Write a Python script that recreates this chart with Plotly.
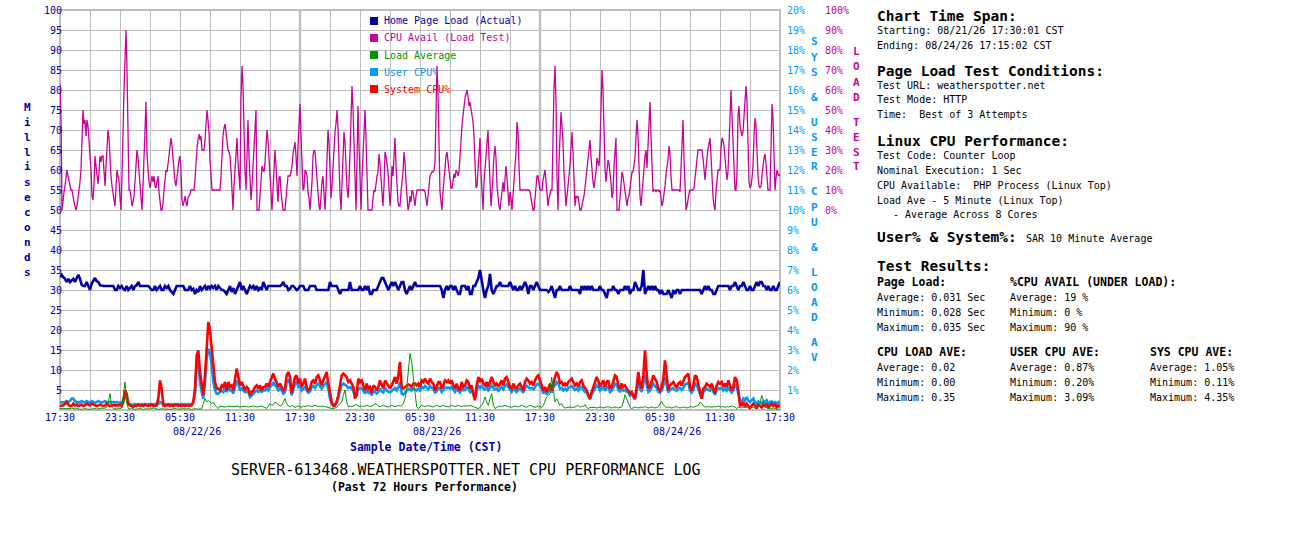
import plotly.graph_objects as go

# ---------------- data ----------------
# hours since 08/21/26 17:30 CST for the x axis ticks
TICK_HOURS = [0, 3, 6, 9, 12, 15, 18, 21, 24, 27, 30, 33, 36, 39, 42, 45, 48, 51, 54, 57, 60, 63, 66, 69, 72]
TICK_LABELS = ["17:30", "", "23:30", "", "05:30", "", "11:30", "", "17:30", "", "23:30", "", "05:30", "",
               "11:30", "", "17:30", "", "23:30", "", "05:30", "", "11:30", "", "17:30"]
DATE_LABELS = ["08/22/26", "08/23/26", "08/24/26"]
DATE_LABEL_HOURS = [13.7, 37.7, 61.7]

MS_TICKS = [5, 10, 15, 20, 25, 30, 35, 40, 45, 50, 55, 60, 65, 70, 75, 80, 85, 90, 95, 100]
SYS_TICKS = [1, 2, 3, 4, 5, 6, 7, 8, 9, 10, 11, 12, 13, 14, 15, 16, 17, 18, 19, 20]
LOAD_TICKS = [0, 10, 20, 30, 40, 50, 60, 70, 80, 90, 100]

CPU_STEP_H = 0.1        # CPU-avail samples (hours)
SAR_STEP_H = 1 / 6      # 10 minute samples (hours)

# CPU available under load test, %  (0-100, drawn on the LOAD TEST axis)
CPU_AVAIL_PCT = [
    63,47,0,6,9,12,17,20,17,14, 12,10,10,6,4,2,0,2,6,8, 14,20,40,50,43,45,37,45,42,36,
    30,20,7,5,13,27,22,18,13,19, 27,24,27,27,19,12,22,32,40,36, 22,17,12,7,5,2,10,20,17,15,
    6,0,17,45,60,75,90,70,30,10, 10,7,2,4,7,14,25,30,26,19, 12,6,0,12,26,45,54,28,19,14,
    11,14,17,14,17,12,11,14,17,9, 4,0,0,3,10,17,20,19,22,27, 32,36,32,24,19,14,12,17,21,25,
    27,20,5,2,4,7,4,2,6,7, 8,10,10,10,10,15,25,31,35,38, 35,37,30,30,30,35,44,50,45,39,
    25,15,10,10,10,10,10,10,10,10, 10,17,30,37,41,43,39,33,30,29, 27,20,7,0,12,22,31,36,24,17,
    10,57,72,62,38,20,10,35,45,27, 17,5,12,22,31,42,50,0,0,0, 7,18,22,20,19,24,32,40,35,25,
    17,6,0,10,24,30,22,8,4,16, 17,9,4,0,0,0,6,13,17,17, 17,19,22,28,32,34,27,17,32,47,
    53,37,21,10,
    11,20,19,17,9,6,0,6,14,27, 30,29,23,15,7,2,0,8,14,17, 9,0,11,29,40,34,14,6,12,24,
    33,39,43,50,41,22,8,0,14,29, 39,34,21,11,6,14,29,47,62,51, 29,12,0,24,52,33,14,0,16,31,
    42,50,36,16,0,0,0,0,0,6, 10,9,14,17,19,28,23,17,10,2, 12,29,27,24,19,11,2,9,22,17,
    27,36,22,9,4,2,2,9,14,19, 29,24,14,4,0,2,7,4,10,9, 6,2,7,10,10,10,10,10,10,10,
    10,9,6,2,7,14,17,18,19,19, 20,24,46,72,59,26,9,4,0,9, 17,22,27,29,24,18,14,11,11,14,
    18,16,20,19,17,19,29,37,42,47, 52,56,58,60,57,52,54,51,48,44, 37,22,11,12,19,24,36,19,9,0,
    14,22,27,34,40,26,14,2,9,21, 27,32,26,12,6,2,0,6,12,14, 9,17,22,16,6,2,9,6,0,7,
    14,19,29,44,39,22,10,10,10,10, 10,10,10,10,10,10,9,6,2,0, 0,6,11,17,17,12,10,10,10,
    15,17,20,14,7,2,6,9,10,10, 40,61,72,54,17,0,24,42,49,42, 34,19,7,2,7,11,17,23,34,39,
    29,14,2,7,6,7,2,0,0,2, 4,7,11,16,21,26,31,35,27,19, 14,11,14,19,26,23,22,32,51,70,
    60,37,21,14,19,25,23,19,14,6, 9,22,30,36,0,0,0,6,14,19, 17,13,9,6,2,6,7,11,16,19,
    19,22,26,37,45,37,21,7,2,9, 15,22,27,30,21,32,46,54,37,19, 9,10,10,9,10,10,9,10,6,2,
    4,7,12,18,21,25,32,28,17,10, 10,10,10,10,10,10,10,9,21,37, 45,26,9,0,2,6,8,10,10,10,
    10,11,15,21,26,30,30,30,30,30, 26,19,15,21,27,31,33,36,27,14, 7,2,0,9,16,20,20,20,31,36,
    35,32,26,19,15,19,34,52,60,47, 32,17,10,10,19,47,52,42,39,37, 39,46,58,62,54,24,14,11,12,16,
    22,37,46,42,28,17,12,11,12,19, 22,26,28,23,14,10,10,10,31,53, 46,29,10,16,20,18,17,18,17,
]

# Home page load time, milliseconds (10 minute samples)
PAGE_LOAD_MS = [
    33.2,33.8,33.2,32.8,32,32.8,32,32.4,32.8,32, 33,33.8,32.8,31.3,31,31,32,31.2,30,31.6,
    32.4,33,32.2,32,31.2,31, 31,31,31,31,31,31,31,
    30,30,31,30.5,31,30.3,30,31,30,30.5,31,30,31,31.2,32, 31,31,31,31,31,31,
    30.5,30,30,31,30,30.5,31,30,30,31,30.5,31,30,29.5,29,30, 31,31,31,31,31,
    30,30,30,31,30,30.3,29,30,29.5,31, 30,30.5,31,30,31,30.3,31,30.5,31,30,
    31,30.5,30,30,29.5,29,30,31,29.5,30.5, 29,30,31,32,30,31,30,29,30,31,
    30.5,31,30,31,30,30.5,30,32,31,30, 31,31,31,31,31,31,31,31,
    31.3,32,31,31,30,30.3,31,31,30.5,30,30.3,31,31,
    31,30,30,30,31,31,31,31,30, 30,30,30,30,30,30,30, 32,31,31,31,31,30,29, 30,30,30,30,30, 32,
    30,30,30,30,30,
    31,30,30,31,30,31,29,29,30,30, 30,31,32,33,33,32,31,30,31,32, 31,32,31,30,31,32,32,30,29,30,
    31,30,31,32,31,
    31,31,31,31,31,31,31,31,31,31,31,31,31,31,
    30,28,30,31,30,31,31,30,31,30, 29,29,31,31,31,30,31,29,29,31, 31,32,33,35,32,30,28,30,31,34,
    30,29,30,31,31,32, 31,31,31,31,31,
    32,31,30,31,30,30,31,30,31,32, 31,29,31,31,30,31,32,31,30,30,
    30,30,30,29.5,30,31,29.5,28,30,30,31, 30,30,30,30,30, 31, 30,30,30,30,30,
    29,31,30,31,30,31,30,31, 30,30,30,30,
    31,30,30,29,28,30,30,30,31,30, 30,29,30,30,30,31,30,31,29,30, 30,32,31,30,30,31,35,29,30,31,
    30,31,30,31,30,30,29,30,29,29, 29,30,29,28,30,29,30,30,29,
    30,30,30,30,30,30,30,30,30,30,30,30,
    29,30,31,30,31,30,30,29,29,30,31, 31,31,31,31,31,31,
    30,31,31,32,31,30,31,31,32,31, 30,30,31,30,30,31,32,31,32,32, 31,31,30,31,30,30,31,30,30,31, 32,
]

# System CPU %, SAR 10 minute average (right axis)
SYSTEM_CPU_PCT = [
    0.2,0.2,0.23,0.32,0.4,0.27,0.2,0.2,0.32,0.23, 0.27,0.2,0.23,0.27,0.2,0.23,0.32,0.27,0.23,0.32,
    0.27,0.23,0.2,0.23,0.27,0.23,0.2,0.23,0.32,0.23, 0.2,0.23,0.23,0.2,0.23,0.23,0.27,0.2,0.4,0.98,
    0.82,0.32,0.23,0.2,0.15,0.23,0.2,0.27,0.2,0.23, 0.2,0.27,0.23,0.2,0.23,0.27,0.2,0.23,0.23,0.57,
    1.48,1.07,0.23,0.2,0.23,0.27,0.2,0.23,0.2,0.23, 0.27,0.2,0.23,0.2,0.23,0.2,0.23,0.2,0.23,0.23,
    0.4,1.07,2.73,2.98,1.9,1.15,0.73,1.73,3.4,4.4, 3.98,3.07,2.07,1.4,1.07,1.07,0.98,1.23,1.15,1.4,
    0.98,1.4,1.15,1.23,0.98,1.57,2.07,1.65,1.23,1.4, 1.23,0.98,1.15,1.07,0.73,0.9,0.98,1.15,1.23,1.07,
    1.23,0.98,1.15,1.15,1.32,1.15,1.4,1.57,1.82,1.57, 1.4,1.15,1.32,1.15,0.98,1.07,1.73,1.9,1.65,0.82,
    1.23,1.65,1.73,1.32,1.57,1.15,
    1.32,1.57,1.15,0.98,1.07,1.4,1.48,1.32,1.65,1.73, 1.48,1.23,1.48,1.73,1.9,1.32,0.73,0.4,0.2,0.23,
    0.4,0.73,1.23,1.73,1.82,1.73,1.65,1.4,1.48,1.32, 1.15,0.57,0.82,1.57,1.4,1.48,1.23,0.98,1.32,1.07,
    1.15,0.82,1.23,1.15,0.98,1.15,1.48,1.23,1.07,1.48, 1.32,1.15,1.07,1.23,1.4,1.65,1.32,1.73,2.4,1.15,
    1.07,1.15,1.23,1.27,1.23,1.15,1.32,1.32,1.23,1.32, 1.15,1.48,1.4,1.57,1.4,1.32,1.57,1.4,1.32,0.98,
    1.15,1.4,1.4,1.07,1.23,1.48,1.4,1.48,1.32,1.48, 1.23,1.07,1.32,1.07,0.98,1.4,1.15,1.23,1.48,1.4,
    1.07,1.23,0.82,0.48,1.23,1.65,1.4,1.57,1.32,1.23, 1.4,1.15,1.4,1.65,1.4,1.23,1.32,1.15,1.32,1.48,
    1.23,1.57,1.65,1.4,1.15,1.07,1.32,1.15,1.07,1.23, 1.32,1.15,0.98,1.4,1.57,1.48,1.32,1.4,1.23,1.48,
    1.65,1.73,1.48,1.23,
    0.98,1.15,0.9,1.07,1.32,0.98,1.4,1.65,1.9,1.73, 1.32,1.4,1.2,1.32,1.2,1.4,1.48,1.57,1.4,1.23,
    1.32,1.15,1.4,1.48,1.23,1.07,0.98,0.73,0.57,0.9, 1.15,1.4,1.65,1.48,1.15,1.32,1.48,1.15,1.4,1.48,
    1.07,1.15,1.4,1.73,1.65,1.23,1.07,1.32,1.15,1.23, 1.07,0.98,0.82,0.9,0.73,0.57,1.15,1.9,1.32,1.07,
    1.73,2.98,1.82,1.07,1.15,1.48,1.73,1.57,1.4,1.07, 0.98,1.15,1.57,2.48,1.57,0.98,1.23,1.32,1.4,1.23,
    1.15,1.32,1.4,1.23,1.4,1.65,1.73,1.82,1.15,0.98, 1.23,1.73,1.65,1.23,0.82,0.57,1.07,1.15,1.32,1.23,
    1.15,1.32,1.07,0.82,1.23,1.4,1.32,1.4,1.15,1.32, 1.15,1.48,1.23,0.98,1.15,1.65,1.48,0.98,0.23,0.23,
    0.4,0.15,0.32,0.23,0.1,0.2,0.32,0.23,0.07,0.27, 0.2,0.13,0.27,0.2,0.32,0.1,0.23,0.32,0.2,0.27,
    0.13,0.23,0.15,
]

# User CPU %, SAR 10 minute average (right axis)
USER_CPU_PCT = [
    0.37,0.37,0.37,0.4,0.45,0.4,0.45,0.57,0.57,0.45, 0.4,0.37,0.4,0.45,0.4,0.37,0.45,0.4,0.37,0.45,
    0.4,0.37,0.4,0.45,0.4,0.37,0.4,0.45,0.4,0.37, 0.4,0.37,0.4,0.37,0.4,0.37,0.35,0.37,0.48,0.82,
    0.57,0.27,0.3,0.27,0.25,0.3,0.27,0.3,0.25,0.3, 0.27,0.3,0.25,0.3,0.27,0.3,0.27,0.3,0.27,0.3,
    0.4,0.35,0.27,0.3,0.25,0.3,0.27,0.3,0.27,0.3, 0.25,0.3,0.27,0.3,0.27,0.3,0.27,0.3,0.27,0.3,
    0.4,0.82,2.15,2.4,1.4,0.9,0.57,1.4,2.57,3.07, 2.82,2.23,1.4,0.98,0.82,0.82,0.9,0.98,0.9,1.07,
    0.9,1.15,0.98,0.98,0.82,1.15,1.48,1.32,0.98,1.07, 0.98,0.9,0.9,0.9,0.65,0.73,0.82,0.9,0.98,0.9,
    0.98,0.9,0.98,0.98,1.07,0.98,1.15,1.23,1.4,1.23, 1.15,0.98,1.07,0.98,0.82,0.9,1.4,1.48,1.32,0.73,
    0.98,1.32,1.4,1.15,1.23,0.98,
    1.07,1.15,0.98,0.87,0.93,1.15,1.2,1.1,1.27,1.32, 1.2,1.07,1.2,1.32,1.4,1.07,0.57,0.32,0.23,0.27,
    0.4,0.65,0.98,1.23,1.32,1.27,1.2,1.1,1.15,1.07, 0.98,0.65,0.73,1.1,1.07,1.1,0.98,0.82,0.98,0.87,
    0.93,0.73,0.98,0.9,0.82,0.9,1.07,0.93,0.87,1.07, 0.98,0.9,0.87,0.93,1.03,1.1,0.98,1.15,1.4,0.82,
    0.77,0.87,0.98,1.07,1.03,0.97,1.07,1.03,0.98,1.07, 0.93,1.15,1.1,1.2,1.1,1.03,1.2,1.1,1.07,0.87,
    0.93,1.1,1.1,0.9,0.98,1.13,1.1,1.13,1.07,1.15, 1.03,0.9,1.03,0.93,0.87,1.1,0.98,1.0,1.15,1.1,
    0.9,0.98,0.77,0.57,0.98,1.2,1.1,1.2,1.07,1.03, 1.13,0.98,1.1,1.23,1.1,1.03,1.07,0.97,1.07,1.15,
    1.03,1.2,1.27,1.13,0.98,0.9,1.07,0.97,0.9,1.0, 1.07,0.97,0.87,1.1,1.2,1.15,1.07,1.1,1.03,1.15,
    1.27,1.32,1.2,1.07,
    0.82,0.98,0.77,0.9,1.07,0.87,1.15,1.23,1.4,1.32, 1.07,1.1,0.98,1.07,0.98,1.1,1.15,1.2,1.1,1.0,
    1.07,0.97,1.1,1.15,1.0,0.9,0.87,0.65,0.53,0.77, 0.93,1.1,1.23,1.15,0.97,1.07,1.15,0.97,1.1,1.15,
    0.9,0.97,1.1,1.32,1.27,1.03,0.9,1.07,0.97,1.0, 0.9,0.87,0.73,0.8,0.65,0.53,0.97,1.4,1.07,0.9,
    1.32,1.73,1.27,0.9,0.97,1.15,1.32,1.2,1.1,0.9, 0.87,0.97,1.2,1.65,1.2,0.87,1.0,1.07,1.1,1.0,
    0.97,1.07,1.1,1.0,1.1,1.27,1.32,1.37,0.97,0.87, 1.0,1.32,1.27,1.0,0.77,0.57,0.9,0.97,1.07,1.0,
    0.97,1.07,0.9,0.77,1.0,1.1,1.07,1.1,0.97,1.07, 0.97,1.15,1.0,0.87,0.97,1.23,1.15,0.87,0.48,0.4,
    0.57,0.48,0.65,0.48,0.4,0.48,0.57,0.4,0.32,0.43, 0.37,0.32,0.43,0.4,0.48,0.32,0.4,0.43,0.37,0.4,
    0.32,0.4,0.32,
]

# 5 minute load average across 8 cores, in right-axis % units
LOAD_AVE_PCT = [
    0.07,0.07,0.05,0.07,0.05,0.07,0.07,0.1,0.07,0.05, 0.07,0.05,0.03,0.03,0.05,0.07,0.05,0.03,0.03,0.05,
    0.07,0.07,0.05,0.05,0.07,0.1,0.07,0.1,0.13,0.4, 0.82,0.15,0.07,0.05,0.07,0.05,0.07,0.1,0.73,1.4,
    0.4,0.07,
    0.05,0.07,0.05,0.03,0.05,0.07,0.07,0.05,0.03,0.05, 0.07,0.05,0.05,0.07,0.1,0.07,0.05,0.03,0.05,0.07,
    0.05,0.05,0.07,0.05,0.03,0.05,0.07,0.07,0.05,0.05, 0.03,0.05,0.07,0.05,0.05,0.07,0.05,0.03,0.05,0.07,
    0.05,0.05,0.03,0.05,
    0.32,0.57,0.4,0.48,0.4,0.32,0.4,0.23,0.15,0.07,0.2,0.17,
    0.17,0.15,0.17,0.2,0.17,0.17,0.15,0.17,0.2,0.17, 0.15,0.17,0.17,0.2,0.17,0.15,0.17,0.17,0.2,0.17,
    0.15,0.17,0.17,0.2,0.15,0.13,
    0.07,0.23,0.32,0.23,0.27,0.4,0.32,0.23,0.2,0.23, 0.4,0.57,0.32,0.2,0.15,0.23,0.2,0.13,0.17,0.2,
    0.17,0.13,
    0.2,0.17,0.2,0.23,0.2,0.17,0.2,0.23,0.2,0.17, 0.2,0.17,0.2,0.17,0.15,0.13,0.1,0.07,0.07,0.1,
    0.13,0.23,0.32,0.4,0.73,1.0,0.4,0.15,0.2,0.17, 0.2,0.23,0.27,0.2,0.17,0.2,0.17,0.2,0.23,0.2,
    0.17,0.2,0.23,0.32,0.3,0.2,0.17,0.2,0.23,0.2, 0.17,0.15,0.2,0.23,0.2,0.17,0.2,0.23,0.2,0.23,
    0.32,0.57,1.07,2.07,2.82,2.4,1.65,0.82,0.15,0.07, 0.13,0.23,0.2,0.17,0.2,0.23,0.2,0.17,0.15,0.2,
    0.23,0.2,0.17,0.2,0.23,0.2,0.17,0.15,0.2,0.23, 0.2,0.17,0.2,0.23,0.2,0.17,0.2,0.2,0.17,0.2,
    0.23,0.2,0.17,0.13,0.1,0.07,0.13,0.23,0.4,0.65, 0.4,0.23,0.57,0.82,0.23,0.07,0.13,0.17,0.2,0.17,
    0.2,0.23,0.2,0.17,0.15,0.13,0.17,0.2,0.17,0.15, 0.2,0.23,0.2,0.17,0.13,0.2,0.23,0.2,0.17,0.13,
    0.17,0.2,0.17,0.13,
    0.23,0.4,0.65,0.73,0.82,1.65,0.9,0.4,0.57,0.4, 0.23,0.32,0.15,0.1,0.13,0.13,0.15,0.13,0.13,0.15,
    0.2,0.23,0.13,0.2,0.17,0.27,0.13,0.07,0.13,0.13, 0.15,0.13,0.1,0.13,0.15,0.13,0.1,0.13,0.15,0.17,
    0.13,0.1,0.13,0.15,0.13,0.1,0.13,0.15,0.4,0.77, 0.57,0.32,0.15,0.07,0.13,0.15,0.13,0.1,0.13,0.15,
    0.13,0.17,0.13,0.1,0.13,0.15,0.13,0.1,0.13,0.15, 0.32,0.43,0.27,0.17,0.13,0.15,0.13,0.1,0.13,0.15,
    0.17,0.13,0.1,0.13,0.15,0.13,0.1,0.13,0.15,0.17, 0.13,0.15,0.2,0.23,0.4,0.32,0.2,0.13,0.17,0.15,
    0.17,0.13,0.17,0.15,0.17,0.2,0.17,0.15,0.17,0.13, 0.17,0.15,0.17,0.2,0.17,0.15,0.07,0.13,0.13,0.1,
    0.13,0.15,0.13,0.1,0.13,0.15,0.13,0.1,0.13,0.15, 0.32,0.73,0.48,0.23,0.1,0.07,0.05,0.07,0.05,0.07,
    0.05,0.03,0.05,
]

# ---------------- styling ----------------
MONO = "DejaVu Sans Mono"
NAVY = "#0000AA"
PINK = "#CC0099"
GREEN = "#009900"
SKY = "#0099FF"
RED = "#FF0000"
GRID = "#BEBEBE"

W, H = 1300, 550
PL, PR, PT, PB = 60, 780, 10, 410      # plot area in pixels
PAPER_R = 880                           # paper extends to make room for right axes
PAD = 2                                 # annotation inner padding compensation


def px(X):
    return (X - PL) / (PAPER_R - PL)


def py(Y):
    return (PB - Y) / (PB - PT)


t_cpu = [i * CPU_STEP_H for i in range(len(CPU_AVAIL_PCT))]
t_page = [i * SAR_STEP_H for i in range(len(PAGE_LOAD_MS))]
t_sys = [i * SAR_STEP_H for i in range(len(SYSTEM_CPU_PCT))]
t_user = [i * SAR_STEP_H for i in range(len(USER_CPU_PCT))]
t_load = [i * SAR_STEP_H for i in range(len(LOAD_AVE_PCT))]

fig = go.Figure()
fig.add_trace(go.Scatter(x=t_cpu, y=CPU_AVAIL_PCT, yaxis="y3", mode="lines",
                         line=dict(color=PINK, width=1.3), name="CPU Avail (Load Test)"))
fig.add_trace(go.Scatter(x=t_user, y=USER_CPU_PCT, yaxis="y2", mode="lines",
                         line=dict(color=SKY, width=2.6), name="User CPU%"))
fig.add_trace(go.Scatter(x=t_sys, y=SYSTEM_CPU_PCT, yaxis="y2", mode="lines",
                         line=dict(color=RED, width=2.6), name="System CPU%"))
fig.add_trace(go.Scatter(x=t_load, y=LOAD_AVE_PCT, yaxis="y2", mode="lines",
                         line=dict(color=GREEN, width=1), name="Load Average"))
fig.add_trace(go.Scatter(x=t_page, y=PAGE_LOAD_MS, yaxis="y", mode="lines",
                         line=dict(color=NAVY, width=2.6), name="Home Page Load (Actual)"))

NB = "\u00a0"
ms_text = [str(v).rjust(3, NB) for v in MS_TICKS]

tickfont = dict(family=MONO, size=10, color=NAVY)

fig.update_layout(
    width=W, height=H,
    margin=dict(l=PL, r=W - PAPER_R, t=PT, b=H - PB, autoexpand=False),
    paper_bgcolor="white", plot_bgcolor="white",
    showlegend=False, hovermode=False,
    xaxis=dict(domain=[0, px(PR)], range=[0, 72], tickmode="array",
               tickvals=TICK_HOURS, ticktext=TICK_LABELS, showgrid=True,
               gridcolor=GRID, gridwidth=1, zeroline=False, showline=False,
               ticks="", tickfont=tickfont, tickangle=0, automargin=False),
    yaxis=dict(range=[0, 100], tickmode="array", tickvals=MS_TICKS, ticktext=ms_text,
               showgrid=True, gridcolor=GRID, gridwidth=1, zeroline=False, showline=False,
               ticks="", tickfont=tickfont, anchor="free", position=px(62), automargin=False),
    yaxis2=dict(range=[0, 20], overlaying="y", side="right", anchor="free", position=px(786),
                tickmode="array", tickvals=SYS_TICKS, ticktext=[f"{v}%" for v in SYS_TICKS],
                showgrid=False, zeroline=False, showline=False, ticks="", automargin=False,
                tickfont=dict(family=MONO, size=10, color=SKY)),
    yaxis3=dict(range=[-100, 100], overlaying="y", side="right", anchor="free", position=px(824),
                tickmode="array", tickvals=LOAD_TICKS, ticktext=[f"{v}%" for v in LOAD_TICKS],
                showgrid=False, zeroline=False, showline=False, ticks="", automargin=False,
                tickfont=dict(family=MONO, size=10, color=PINK)),
)

shapes = []
# plot border
shapes.append(dict(type="rect", xref="paper", yref="paper", x0=0, x1=px(PR), y0=0, y1=1,
                   line=dict(color=GRID, width=2), layer="below"))
# heavier grid lines at each 24 h boundary
for hx in (24, 48):
    shapes.append(dict(type="line", xref="x", yref="paper", x0=hx, x1=hx, y0=0, y1=1,
                       line=dict(color=GRID, width=2.5), layer="below"))

annotations = []


def ann(text, X, Y, size=10, color="black", bold=False, xanchor="left"):
    if xanchor == "left":
        X -= PAD
    annotations.append(dict(
        text=f"<b>{text}</b>" if bold else text, x=px(X), y=py(Y),
        xref="paper", yref="paper", xanchor=xanchor, yanchor="middle",
        showarrow=False, font=dict(family=MONO, size=size, color=color)))


# legend (manual)
legend_items = [("Home Page Load (Actual)", NAVY), ("CPU Avail (Load Test)", PINK),
                ("Load Average", GREEN), ("User CPU%", SKY), ("System CPU%", RED)]
for k, (label, col) in enumerate(legend_items):
    yc = 21 + 17 * k
    shapes.append(dict(type="rect", xref="paper", yref="paper",
                       x0=px(370), x1=px(378), y0=py(yc + 4), y1=py(yc - 4),
                       line=dict(width=0), fillcolor=col, layer="above"))
    ann(label, 384, yc, size=10, color=col)

# date labels under the time ticks
for lab, hx in zip(DATE_LABELS, DATE_LABEL_HOURS):
    annotations.append(dict(text=lab, x=hx, y=py(431), xref="x", yref="paper",
                            xanchor="center", yanchor="middle", showarrow=False,
                            font=dict(family=MONO, size=10, color=NAVY)))

ann("Sample Date/Time (CST)", 426, 447, size=11.5, color=NAVY, bold=True, xanchor="center")
ann("SERVER-613468.WEATHERSPOTTER.NET CPU PERFORMANCE LOG", 466, 470, size=15, xanchor="center")
ann("(Past 72 Hours Performance)", 424, 487, size=11.5, bold=True, xanchor="center")


def vertical(text, X, Y0, color):
    y = Y0
    for ch in text:
        if ch == " ":
            y += 10
            continue
        ann(ch, X, y, size=11, color=color, bold=True, xanchor="center")
        y += 15


vertical("Milliseconds", 27, 107, NAVY)
vertical("SYS & USER CPU & LOAD AV", 814, 42, SKY)
vertical("LOAD TEST", 856, 52, PINK)

# right info panel
HX = 877
ann("Chart Time Span:", HX, 16, size=14.5, bold=True)
ann("Starting: 08/21/26 17:30:01 CST", HX, 30)
ann("Ending: 08/24/26 17:15:02 CST", HX, 45)
ann("Page Load Test Conditions:", HX, 71, size=14.5, bold=True)
ann("Test URL: weatherspotter.net", HX, 85)
ann("Test Mode: HTTP", HX, 100)
ann(f"Time:{NB}{NB}Best of 3 Attempts", HX, 115)
ann("Linux CPU Performance:", HX, 141, size=14.5, bold=True)
ann("Test Code: Counter Loop", HX, 155)
ann("Nominal Execution: 1 Sec", HX, 170)
ann(f"CPU Available:{NB}{NB}PHP Process (Linux Top)", HX, 185)
ann("Load Ave - 5 Minute (Linux Top)", HX, 200)
ann(f"{NB}{NB}{NB}- Average Across 8 Cores", HX - 2, 215)
ann("User% &amp; System%:", HX, 237, size=14.5, bold=True)
ann("SAR 10 Minute Average", 1026, 238)
ann("Test Results:", HX, 266, size=14.5, bold=True)
ann("Page Load:", HX, 282, size=11.5, bold=True)
ann("%CPU AVAIL (UNDER LOAD):", 1010, 282, size=11.5, bold=True)
ann("Average: 0.031 Sec", HX, 297)
ann("Minimum: 0.028 Sec", HX, 312)
ann("Maximum: 0.035 Sec", HX, 327)
ann("Average: 19 %", 1010, 297)
ann("Minimum: 0 %", 1010, 312)
ann("Maximum: 90 %", 1010, 327)
ann("CPU LOAD AVE:", HX, 352, size=11.5, bold=True)
ann("USER CPU AVE:", 1010, 352, size=11.5, bold=True)
ann("SYS CPU AVE:", 1150, 352, size=11.5, bold=True)
ann("Average: 0.02", HX, 367)
ann("Minimum: 0.00", HX, 382)
ann("Maximum: 0.35", HX, 397)
ann("Average: 0.87%", 1010, 367)
ann("Minimum: 0.20%", 1010, 382)
ann("Maximum: 3.09%", 1010, 397)
ann("Average: 1.05%", 1150, 367)
ann("Minimum: 0.11%", 1150, 382)
ann("Maximum: 4.35%", 1150, 397)

fig.update_layout(shapes=shapes, annotations=annotations)
fig.write_html("out.html", config={"displayModeBar": False},
               post_script="document.body.style.margin='0px';")
